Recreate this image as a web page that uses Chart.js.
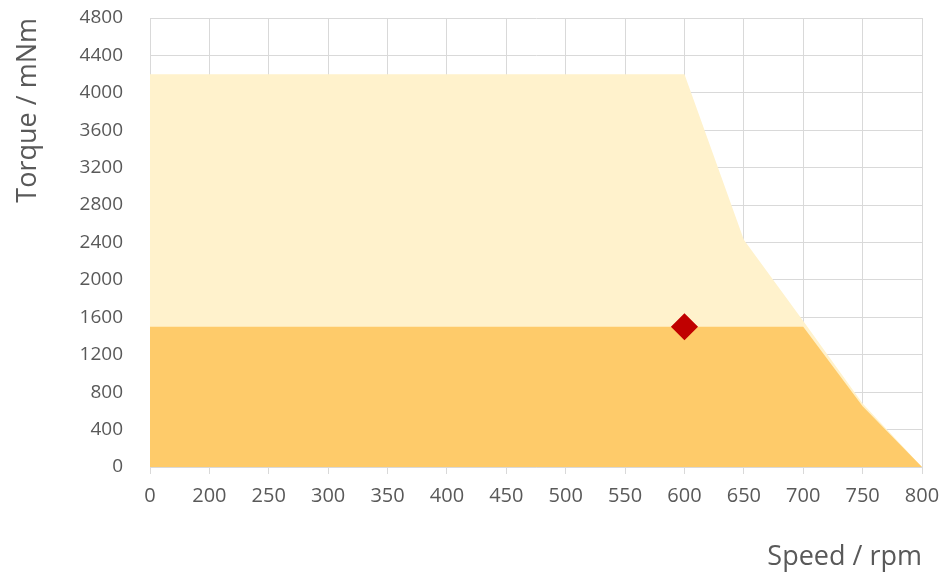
<!DOCTYPE html>
<html>
<head>
<meta charset="utf-8">
<script src="https://cdn.jsdelivr.net/npm/chart.js@4/dist/chart.umd.min.js"></script>
<style>
  html, body { margin: 0; padding: 0; background: #ffffff; }
  #wrap { position: relative; width: 947px; height: 577px; }
</style>
</head>
<body>
<div id="wrap"><canvas id="c"></canvas></div>
<script>
const speedLabels = ['0', '200', '250', '300', '350', '400', '450', '500', '550', '600', '650', '700', '750', '800'];
const maxTorque = [4200, 4200, 4200, 4200, 4200, 4200, 4200, 4200, 4200, 4200, 2430, 1560, 680, 0];
const ratedTorque = [1500, 1500, 1500, 1500, 1500, 1500, 1500, 1500, 1500, 1500, 1500, 1500, 650, 0];
const operatingPoint = [null, null, null, null, null, null, null, null, null, 1500, null, null, null, null];
const yMin = 0, yMax = 4800, yStep = 400;
const xTitle = 'Speed / rpm';
const yTitle = 'Torque / mNm';

const textColor = '#595959';
const gridColor = '#D9D9D9';
const fontFamily = '"Open Sans", "Noto Sans", "DejaVu Sans", sans-serif';

new Chart(document.getElementById('c'), {
  type: 'line',
  data: {
    labels: speedLabels,
    datasets: [
      {
        label: 'Operating point',
        data: operatingPoint,
        showLine: false,
        pointStyle: 'rectRot',
        pointRadius: 12.5,
        pointBackgroundColor: '#C00000',
        pointBorderColor: '#C00000',
        pointBorderWidth: 1.5,
        borderJoinStyle: 'round',
        order: 0
      },
      {
        label: 'Rated torque',
        data: ratedTorque,
        fill: 'origin',
        backgroundColor: '#FECB6A',
        borderWidth: 0,
        borderColor: 'rgba(0,0,0,0)',
        pointRadius: 0,
        tension: 0,
        order: 1
      },
      {
        label: 'Max torque',
        data: maxTorque,
        fill: 'origin',
        backgroundColor: '#FFF2CC',
        borderWidth: 0,
        borderColor: 'rgba(0,0,0,0)',
        pointRadius: 0,
        tension: 0,
        order: 2
      }
    ]
  },
  options: {
    responsive: true,
    maintainAspectRatio: false,
    animation: false,
    layout: { padding: { left: 0, right: 25, top: 18, bottom: 0 } },
    plugins: {
      legend: { display: false },
      tooltip: { enabled: false }
    },
    scales: {
      x: {
        type: 'category',
        offset: false,
        grid: {
          color: gridColor,
          lineWidth: 1,
          drawTicks: true,
          tickLength: 7,
          tickColor: gridColor
        },
        border: { color: gridColor, width: 1 },
        ticks: {
          color: textColor,
          font: { family: fontFamily, size: 20 },
          padding: 10,
          maxRotation: 0,
          autoSkip: false
        },
        title: {
          display: true,
          text: xTitle,
          align: 'end',
          color: textColor,
          font: { family: fontFamily, size: 27 },
          padding: { top: 3, bottom: 3 }
        },
        afterFit: (s) => { s.height = 110; s.paddingLeft = 0; s.paddingRight = 0; }
      },
      y: {
        min: yMin,
        max: yMax,
        grid: {
          color: gridColor,
          lineWidth: 1,
          drawTicks: false
        },
        border: { color: gridColor, width: 1 },
        ticks: {
          stepSize: yStep,
          color: textColor,
          font: { family: fontFamily, size: 19 },
          padding: 27,
          callback: (v) => String(v)
        },
        title: {
          display: true,
          text: yTitle,
          align: 'end',
          color: textColor,
          font: { family: fontFamily, size: 27 },
          padding: { top: 12, bottom: 0 }
        },
        afterFit: (s) => { s.width = 150; s.paddingTop = 0; s.paddingBottom = 0; }
      }
    }
  }
});
</script>
</body>
</html>
